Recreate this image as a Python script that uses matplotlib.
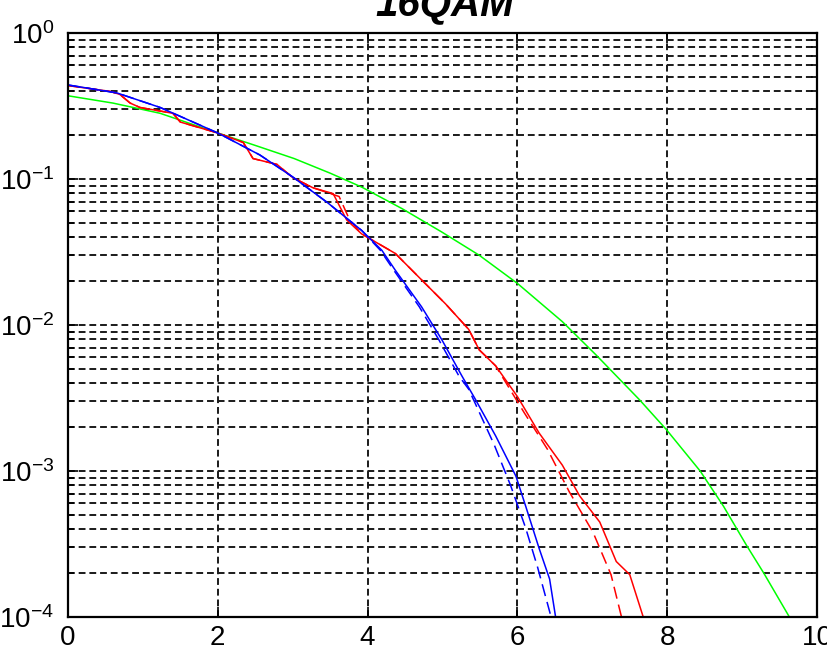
import numpy as np
import matplotlib
matplotlib.use("Agg")
import matplotlib.pyplot as plt
import matplotlib.ticker as mticker
from matplotlib import font_manager

names = {f.name for f in font_manager.fontManager.ttflist}
tick_font = "Liberation Sans Narrow" if "Liberation Sans Narrow" in names else "Liberation Sans"
plt.rcParams['font.family'] = [tick_font, 'DejaVu Sans']
plt.rcParams['mathtext.fontset'] = 'custom'
plt.rcParams['mathtext.rm'] = tick_font

# values (x, log10 of rate)
green_x = [0, 0.6, 1.23, 2.0, 2.5, 3.02, 3.5, 3.92, 4.46, 4.99, 5.49, 6.0, 6.6, 7.05,
           7.63, 7.99, 8.44, 8.75, 9.06, 9.29, 9.62]
green_ly = [-0.43, -0.48, -0.55, -0.685, -0.77, -0.86, -0.96, -1.055, -1.203, -1.363,
            -1.522, -1.715, -1.977, -2.205, -2.512, -2.717, -3.0, -3.24, -3.51, -3.70, -3.99]

blue_x = [0.0, 0.65, 1.23, 2.0, 2.56, 3.0, 3.46, 3.92, 4.19, 4.37, 4.72, 4.99, 5.26,
          5.44, 5.71, 5.98, 6.11, 6.29, 6.43, 6.51]
blue_ly = [-0.356, -0.41, -0.51, -0.685, -0.835, -0.986, -1.16, -1.352, -1.488, -1.625,
           -1.875, -2.10, -2.35, -2.51, -2.76, -3.035, -3.24, -3.53, -3.74, -4.0]

blue_dash_x = [0.0, 0.65, 1.23, 2.0, 2.56, 3.0, 3.46, 3.92, 4.17, 4.35, 4.69, 4.95,
               5.22, 5.35, 5.69, 5.91, 6.11, 6.27, 6.45]
blue_dash_ly = [-0.356, -0.41, -0.51, -0.685, -0.835, -0.986, -1.16, -1.352, -1.488,
                -1.625, -1.875, -2.10, -2.35, -2.44, -2.82, -3.10, -3.39, -3.66, -4.0]

red_x = [0.0, 0.56, 0.69, 0.83, 0.96, 1.40, 1.5, 2.0, 2.34, 2.47, 2.79, 3.0, 3.27, 3.54,
         3.72, 3.92, 4.37, 4.68, 5.04, 5.35, 5.49, 5.71, 6.0, 6.29, 6.60, 6.83, 7.10,
         7.32, 7.50, 7.68]
red_ly = [-0.36, -0.40, -0.42, -0.48, -0.51, -0.55, -0.61, -0.685, -0.75, -0.86, -0.90,
          -0.99, -1.06, -1.10, -1.28, -1.376, -1.51, -1.67, -1.855, -2.03, -2.17, -2.28,
          -2.49, -2.74, -2.96, -3.17, -3.35, -3.62, -3.71, -4.0]

red_dash_x = [0.0, 0.56, 0.69, 0.83, 0.96, 1.40, 1.5, 2.0, 2.34, 2.47, 2.79, 3.0, 3.27,
              3.62, 3.76, 3.92, 4.37, 4.68, 5.04, 5.35, 5.49, 5.71, 6.09, 6.40, 6.69,
              7.01, 7.25, 7.39]
red_dash_ly = [-0.36, -0.40, -0.42, -0.48, -0.51, -0.55, -0.61, -0.685, -0.75, -0.86,
               -0.90, -0.99, -1.06, -1.12, -1.28, -1.376, -1.51, -1.67, -1.855, -2.03,
               -2.17, -2.28, -2.60, -2.85, -3.14, -3.42, -3.71, -4.0]

fig = plt.figure(figsize=(8.28, 6.5), dpi=100)
ax = fig.add_axes([68 / 828, 1 - 617 / 650, (817 - 68) / 828, (617 - 33) / 650])

ax.plot(green_x, 10 ** np.array(green_ly), color=(0, 1, 0), lw=1.1)
ax.plot(red_x, 10 ** np.array(red_ly), color=(1, 0, 0), lw=1.1)
ax.plot(red_dash_x, 10 ** np.array(red_dash_ly), color=(1, 0, 0), lw=1.1, ls=(0, (8, 4)))
ax.plot(blue_x, 10 ** np.array(blue_ly), color=(0, 0, 1), lw=1.1)
ax.plot(blue_dash_x, 10 ** np.array(blue_dash_ly), color=(0, 0, 1), lw=1.1, ls=(0, (8, 4)))

ax.set_yscale("log")
ax.set_xlim(0, 10)
ax.set_ylim(1e-4, 1)
ax.set_xticks([0, 2, 4, 6, 8, 10])
ax.yaxis.set_major_locator(mticker.LogLocator(base=10, numticks=10))
ax.yaxis.set_minor_locator(mticker.LogLocator(base=10, subs=np.arange(2, 10), numticks=10))
ax.yaxis.set_minor_formatter(mticker.NullFormatter())

gridstyle = dict(color="#1a1a1a", lw=1.4, ls=(0, (3.5, 2)))
ax.grid(True, which="major", axis="both", **gridstyle)
ax.grid(True, which="minor", axis="y", **gridstyle)
ax.set_axisbelow(True)

ax.tick_params(axis="both", which="both", direction="in", top=True, right=True,
               labelsize=20, colors="black")
ax.tick_params(axis="both", which="major", length=7, width=1.2)
ax.tick_params(axis="y", which="minor", length=4, width=1.2)
ax.tick_params(axis="x", pad=6)
ax.tick_params(axis="y", pad=10)
for sp in ax.spines.values():
    sp.set_linewidth(1.6)

fig.text(445 / 828, 1 - 15 / 650, "16QAM", ha="center", va="baseline",
         fontsize=29, fontweight="bold", fontstyle="italic",
         family=["Liberation Sans", "DejaVu Sans"])

plt.savefig("out.png", dpi=100)
